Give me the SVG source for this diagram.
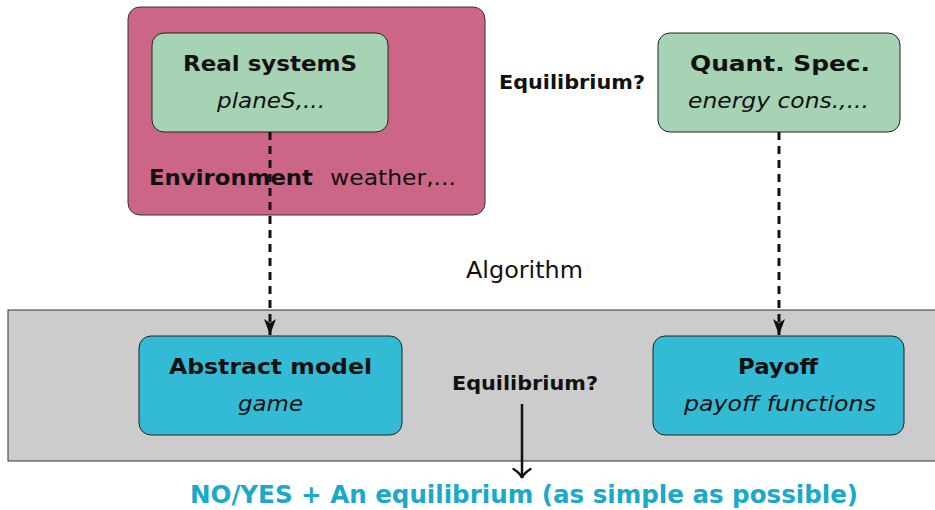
<svg xmlns="http://www.w3.org/2000/svg" width="935" height="510" viewBox="0 0 935 510">
<style>
text{font-family:"DejaVu Sans","Liberation Sans",sans-serif;fill:#111}
.t{font-size:22px;font-weight:bold;text-anchor:middle}
.s{font-size:22px;font-style:italic;text-anchor:middle}
.q{font-size:19.5px;font-weight:bold;text-anchor:middle}
.green{fill:#a7d3b5;stroke:#222;stroke-width:1}
.cyan{fill:#33bbd6;stroke:#222;stroke-width:1}
.dash{stroke:#111;stroke-width:3;stroke-dasharray:8,6;fill:none}
</style>
<defs>
<marker id="ah" markerWidth="18" markerHeight="14" refX="0" refY="0" orient="auto" markerUnits="userSpaceOnUse" viewBox="-17 -7 18 14">
<path d="M0,0 L-16,-6 L-12,0 L-16,6 Z" fill="#111"/>
</marker>
<marker id="ah2" markerWidth="12" markerHeight="20" refX="9" refY="0" orient="auto" markerUnits="userSpaceOnUse" viewBox="-1 -10 12 20">
<path d="M0,-8.5 Q5,-1 9,0 Q5,1 0,8.5" fill="none" stroke="#111" stroke-width="2.3" stroke-linecap="round"/>
</marker>
</defs>
<g id="environment">
<rect x="128" y="7" width="357" height="208" rx="12" fill="#cc6686" stroke="#333" stroke-width="1"/>
<text x="149" y="185" textLength="164" lengthAdjust="spacingAndGlyphs" style="font-size:22px;font-weight:bold">Environment</text>
<text x="330" y="185" textLength="126" lengthAdjust="spacingAndGlyphs" style="font-size:22px">weather,...</text>
</g>
<g id="algorithm">
<rect x="8" y="310" width="940" height="151" fill="#cccccc" stroke="#333" stroke-width="1"/>
<text x="524.5" y="278" textLength="117" lengthAdjust="spacingAndGlyphs" style="font-size:22.5px" text-anchor="middle">Algorithm</text>
</g>
<g id="real-systems">
<rect class="green" x="152" y="33" width="236" height="99" rx="12"/>
<text class="t" x="270" y="71" textLength="174" lengthAdjust="spacingAndGlyphs">Real systemS</text>
<text class="s" x="271" y="108" textLength="108" lengthAdjust="spacingAndGlyphs">planeS,...</text>
</g>
<g id="quant-spec">
<rect class="green" x="658" y="33" width="242" height="99" rx="12"/>
<text class="t" x="780" y="71" textLength="180" lengthAdjust="spacingAndGlyphs">Quant.  Spec.</text>
<text class="s" x="778.5" y="108" textLength="181" lengthAdjust="spacingAndGlyphs">energy cons.,...</text>
</g>
<g id="abstract-model">
<rect class="cyan" x="139" y="336" width="263" height="99" rx="12"/>
<text class="t" x="270.5" y="374" textLength="203" lengthAdjust="spacingAndGlyphs">Abstract model</text>
<text class="s" x="270.5" y="411" textLength="65" lengthAdjust="spacingAndGlyphs">game</text>
</g>
<g id="payoff">
<rect class="cyan" x="653" y="336" width="251" height="99" rx="12"/>
<text class="t" x="778" y="374" textLength="80" lengthAdjust="spacingAndGlyphs">Payoff</text>
<text class="s" x="780" y="411" textLength="192" lengthAdjust="spacingAndGlyphs">payoff functions</text>
</g>
<g id="labels">
<text class="q" x="572" y="89" textLength="146" lengthAdjust="spacingAndGlyphs">Equilibrium?</text>
<text class="q" x="525" y="390" textLength="146" lengthAdjust="spacingAndGlyphs">Equilibrium?</text>
<text x="524" y="503" textLength="668" lengthAdjust="spacingAndGlyphs" style="font-size:24.5px;font-weight:bold;fill:#1aa9c9" text-anchor="middle">NO/YES + An equilibrium (as simple as possible)</text>
</g>
<g id="connectors">
<path class="dash" d="M270,132 V335" marker-end="url(#ah)"/>
<path class="dash" d="M779,132 V335" marker-end="url(#ah)"/>
<path d="M522,404 V478" stroke="#111" stroke-width="2.5" fill="none" marker-end="url(#ah2)"/>
</g>
</svg>
